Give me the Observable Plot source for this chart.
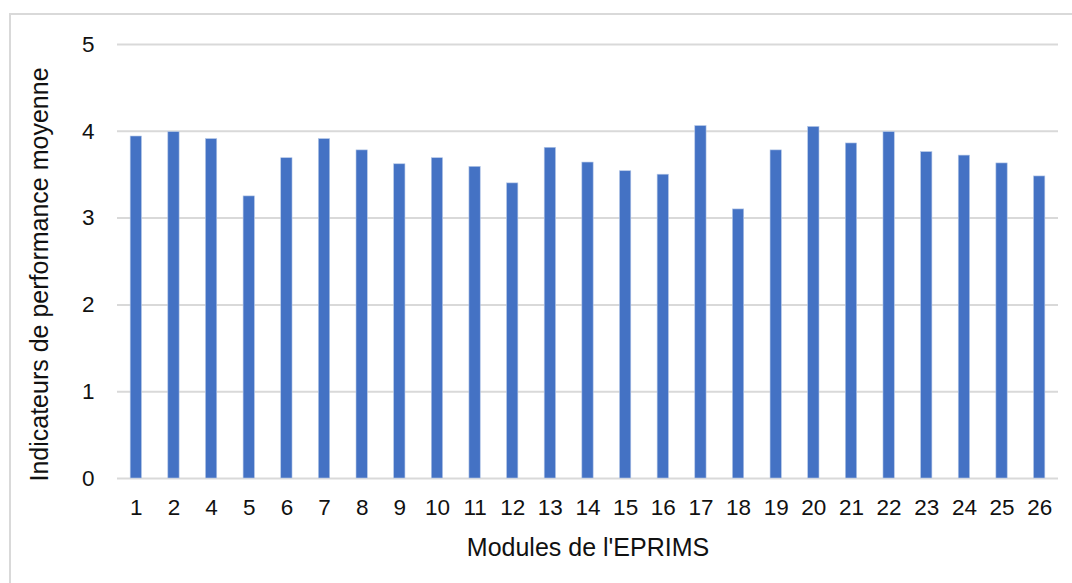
<!DOCTYPE html>
<html>
<head>
<meta charset="utf-8">
<script src="https://cdn.jsdelivr.net/npm/d3@7"></script>
<script src="https://cdn.jsdelivr.net/npm/@observablehq/plot@0.6"></script>
<style>
  html, body { margin: 0; padding: 0; background: #fff; }
  #wrap { position: relative; width: 1072px; height: 583px; overflow: hidden; }
  #border { position: absolute; left: 9px; top: 13px; width: 1100px; height: 620px; border: 2px solid #d9d9d9; box-sizing: border-box; }
  #chart { position: absolute; left: 0; top: 0; }
  g[aria-label="x-axis label"] text { font-size: 25px; }
</style>
</head>
<body>
<div id="wrap"><div id="border"></div><div id="chart"></div></div>
<script>
const modules = ["1","2","4","5","6","7","8","9","10","11","12","13","14","15","16","17","18","19","20","21","22","23","24","25","26"];
const scores = [3.94,3.99,3.91,3.25,3.69,3.91,3.78,3.62,3.69,3.59,3.40,3.81,3.64,3.54,3.50,4.06,3.10,3.78,4.05,3.86,3.99,3.76,3.72,3.63,3.48];
const yTicks = [0,1,2,3,4,5];
const xTitle = "Modules de l'EPRIMS";
const yTitle = "Indicateurs de performance moyenne";

const data = modules.map((m, i) => ({module: m, score: scores[i]}));

const chart = Plot.plot({
  width: 1072,
  height: 583,
  marginLeft: 117,
  marginRight: 14,
  marginTop: 44,
  marginBottom: 105,
  style: {fontFamily: "'Liberation Sans', Arial, sans-serif", fontSize: "22.5px", color: "#111", background: "transparent"},
  x: {domain: modules, paddingInner: 0.7, paddingOuter: 0.35, round: false},
  y: {domain: [0, 5]},
  marks: [
    Plot.gridY(yTicks, {stroke: "#d9d9d9", strokeOpacity: 1, strokeWidth: 2}),
    Plot.barY(data, {x: "module", y: "score", fill: "#4472c4", stroke: "#b4c7e7", strokeWidth: 0.6}),
    Plot.axisX({tickSize: 0, tickPadding: 21, fontSize: 22.5, label: xTitle, labelAnchor: "center", labelOffset: 77, labelArrow: "none"}),
    Plot.axisY(yTicks, {tickSize: 0, tickPadding: 23, fontSize: 22.5, tickFormat: "d", label: null}),
    Plot.text([yTitle], {frameAnchor: "left", rotate: -90, dx: -87, dy: 13, lineAnchor: "top", textAnchor: "middle", fontSize: 25, fill: "#111"})
  ]
});
document.getElementById("chart").appendChild(chart);
</script>
</body>
</html>
